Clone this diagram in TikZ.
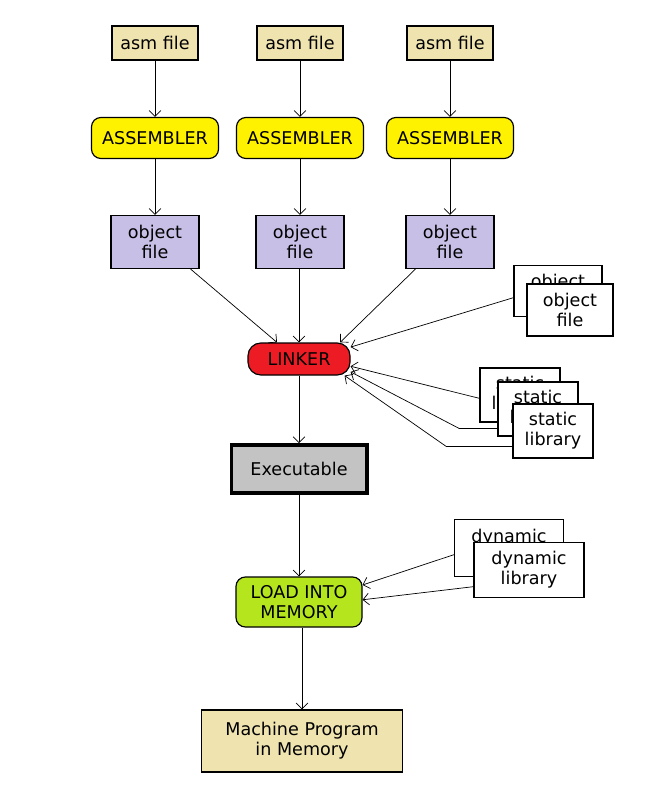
\documentclass[tikz,border=0pt]{standalone}
\usepackage{fontspec}
\setmainfont{DejaVu Sans}
\usetikzlibrary{arrows.meta}
\definecolor{paintan}{RGB}{239,228,176}
\definecolor{paintyellow}{RGB}{255,242,0}
\definecolor{paintlav}{RGB}{200,191,231}
\definecolor{paintred}{RGB}{237,28,36}
\definecolor{paintgray}{RGB}{195,195,195}
\definecolor{paintgreen}{RGB}{181,230,29}

\begin{document}
\begin{tikzpicture}[x=0.03cm,y=-0.03cm,
  every node/.style={draw,line width=1pt,inner sep=0pt,align=center,font=\fontsize{15}{17}\selectfont},
  srcbox/.style={fill=paintan,minimum width=2.58cm,minimum height=1.02cm},
  asmbox/.style={fill=paintyellow,rounded corners=8pt,minimum width=3.81cm,minimum height=1.23cm},
  objbox/.style={fill=paintlav,minimum width=2.64cm,minimum height=1.59cm},
  libbox/.style={fill=white},
  link/.style={-{Straight Barb[length=5pt,width=10pt]},line width=0.6pt}]
  \useasboundingbox (0,0) rectangle (644,789);
  % sources, assemblers, object files
  \foreach \i/\x in {1/155,2/300,3/450} {
    \node[srcbox] (src\i) at (\x,43) {asm file};
    \node[asmbox] (as\i) at (\x,138) {ASSEMBLER};
    \node[objbox] (obj\i) at (\x,242) {object\\file};
    \draw[link] (src\i) -- (as\i);
    \draw[link] (as\i) -- (obj\i);
  }
  \node[fill=paintred,rounded corners=11pt,minimum width=3.06cm,minimum height=0.96cm] (link) at (299,359) {LINKER};
  \node[fill=paintgray,line width=3.4pt,minimum width=4.05cm,minimum height=1.44cm] (exe) at (299,469) {Executable};
  \node[fill=paintgreen,rounded corners=8pt,minimum width=3.78cm,minimum height=1.5cm] (load) at (299,602) {LOAD INTO\\MEMORY};
  \node[srcbox,minimum width=6.03cm,minimum height=1.86cm] (prog) at (302,741) {Machine Program\\in Memory};
  % stacked inputs
  \node[libbox,minimum width=2.64cm,minimum height=1.53cm] (ob) at (558,291) {object\\file};
  \node[libbox,minimum width=2.58cm,minimum height=1.56cm] (of) at (570,310) {object\\file};
  \node[libbox,minimum width=2.4cm,minimum height=1.62cm] (sb) at (520,395) {static\\library};
  \node[libbox,minimum width=2.4cm,minimum height=1.62cm] (sm) at (538,409) {static\\library};
  \node[libbox,minimum width=2.4cm,minimum height=1.62cm] (sf) at (553,431) {static\\library};
  \node[libbox,minimum width=3.27cm,minimum height=1.71cm] (db) at (509,548) {dynamic\\library};
  \node[libbox,minimum width=3.3cm,minimum height=1.65cm] (df) at (529,570) {dynamic\\library};
  % into the linker
  \draw[link] ([xshift=-0.27cm]obj1.south east) -- (link.143);
  \draw[link] (link.north |- obj2.south) -- (link);
  \draw[link] ([xshift=0.3cm]obj3.south west) -- (link.22);
  \draw[link] ([yshift=-0.2cm]ob.west) -- (link.13);
  \draw[link] ([yshift=-0.1cm]sb.west) -- (link.-8);
  \draw[link] ([yshift=0.24cm]sm.south west) -- ++(-38,0) -- (link.-14);
  \draw[link] ([yshift=0.36cm]sf.south west) -- ++(-66,0) -- (link.-20);
  % down the middle
  \draw[link] (link) -- (exe);
  \draw[link] (exe) -- (load);
  \draw[link] ([yshift=-0.2cm]db.west) -- (load.15);
  \draw[link] ([yshift=-0.5cm]df.west) -- (load.2);
  \draw[link] (load.south -| prog.north) -- (prog);
\end{tikzpicture}
\end{document}
